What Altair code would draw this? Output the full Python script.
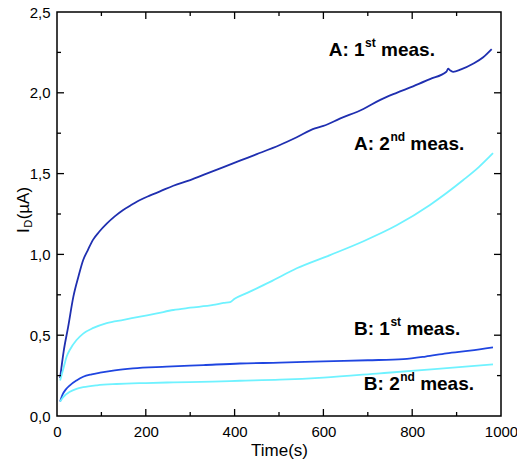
import altair as alt
import pandas as pd

# ---- measured drain current I_D (µA) versus time (s) ----
time_a1 = [7, 15, 25, 37, 48, 59, 70, 81, 95, 112, 130, 149, 170, 187, 210, 232, 262, 300,
           337, 375, 412, 450, 502, 540, 581, 600, 637, 690, 727, 765, 802, 840, 877, 881,
           885, 892, 910, 937, 960, 979]
cur_a1 = [0.235, 0.40, 0.55, 0.74, 0.86, 0.965, 1.03, 1.09, 1.14, 1.19, 1.235, 1.275, 1.31,
          1.337, 1.365, 1.39, 1.425, 1.46, 1.50, 1.54, 1.58, 1.62, 1.677, 1.725, 1.78, 1.795,
          1.84, 1.90, 1.955, 2.00, 2.04, 2.085, 2.13, 2.15, 2.14, 2.13, 2.145, 2.18, 2.22, 2.27]

time_a2 = [7, 15, 22, 29, 44, 59, 82, 112, 150, 187, 225, 262, 300, 352, 375, 390, 400, 427,
           480, 540, 615, 689, 765, 840, 915, 950, 982]
cur_a2 = [0.22, 0.30, 0.37, 0.41, 0.47, 0.51, 0.545, 0.575, 0.595, 0.615, 0.635, 0.656, 0.67,
          0.687, 0.70, 0.705, 0.725, 0.76, 0.83, 0.914, 0.996, 1.08, 1.18, 1.306, 1.46, 1.54,
          1.626]

time_b1 = [7, 12, 20, 29, 44, 59, 78, 97, 130, 171, 247, 330, 412, 502, 600, 700, 780, 830,
           877, 930, 982]
cur_b1 = [0.09, 0.13, 0.165, 0.19, 0.22, 0.243, 0.258, 0.268, 0.283, 0.295, 0.305, 0.315,
          0.325, 0.33, 0.338, 0.345, 0.352, 0.368, 0.388, 0.405, 0.425]

time_b2 = [7, 15, 29, 44, 59, 90, 134, 200, 262, 350, 412, 502, 600, 727, 850, 982]
cur_b2 = [0.09, 0.12, 0.15, 0.168, 0.178, 0.19, 0.198, 0.204, 0.208, 0.213, 0.218, 0.225,
          0.238, 0.264, 0.29, 0.32]

series_names = ["A1", "A2", "B1", "B2"]
series_colors = ["#1f2fb0", "#6ff2ff", "#1f45e0", "#6ff2ff"]

# axis labels and tick marks
x_label_values = [0, 200, 400, 600, 800, 1000]
y_label_values = [0.0, 0.5, 1.0, 1.5, 2.0, 2.5]
x_major = [200, 400, 600, 800]
x_minor = [100, 300, 500, 700, 900]
y_major = [0.5, 1.0, 1.5, 2.0]
y_minor = [0.25, 0.75, 1.25, 1.75, 2.25]

# curve annotations: anchor (time, current), main text, superscript
ann_time = [612, 669, 669, 691]
ann_cur = [2.228, 1.646, 0.501, 0.161]
ann_head = ["A: 1", "A: 2", "B: 1", "B: 2"]
ann_sup = ["st", "nd", "st", "nd"]
ann_tail = "meas."

W, H = 444, 404
FONT = "Liberation Sans"

frames = []
for name, ts, vs in zip(series_names, [time_a1, time_a2, time_b1, time_b2],
                        [cur_a1, cur_a2, cur_b1, cur_b2]):
    frames.append(pd.DataFrame({"series": name, "t": ts, "I": vs}))
curves = pd.concat(frames, ignore_index=True)

x_scale = alt.Scale(domain=[0, 1000], nice=False, zero=False)
y_scale = alt.Scale(domain=[0, 2.5], nice=False, zero=False)

lines = alt.Chart(curves).mark_line(strokeWidth=1.8, clip=True, interpolate="monotone").encode(
    x=alt.X("t:Q", scale=x_scale,
            axis=alt.Axis(title="Time(s)", values=x_label_values, format="d",
                          ticks=False, tickSize=0, domain=False, grid=False,
                          labelFont=FONT, labelFontSize=15, labelColor="black",
                          labelPadding=8, labelFlush=False, labelOverlap=False,
                          titleFont=FONT, titleFontSize=17, titleFontWeight="normal",
                          titleColor="black", titlePadding=3)),
    y=alt.Y("I:Q", scale=y_scale,
            axis=alt.Axis(title="", values=y_label_values,
                          labelExpr="replace(format(datum.value, '.1f'), '.', ',')",
                          ticks=False, tickSize=0, domain=False, grid=False,
                          labelFont=FONT, labelFontSize=15, labelColor="black",
                          labelPadding=7, labelFlush=False, labelOverlap=False)),
    color=alt.Color("series:N", scale=alt.Scale(domain=series_names, range=series_colors),
                    legend=None),
    order=alt.Order("t:Q"),
)


def tick_rules(vals, orient, length):
    """Inward tick marks on both opposite sides of the frame."""
    if orient == "x":
        data = pd.DataFrame({"t": vals})
        base = alt.Chart(data).mark_rule(color="black", strokeWidth=1.3)
        pos = alt.X("t:Q", scale=x_scale)
        return [base.encode(x=pos, y=alt.value(H), y2=alt.value(H - length)),
                base.encode(x=pos, y=alt.value(0), y2=alt.value(length))]
    data = pd.DataFrame({"I": vals})
    base = alt.Chart(data).mark_rule(color="black", strokeWidth=1.3)
    pos = alt.Y("I:Q", scale=y_scale)
    return [base.encode(y=pos, x=alt.value(0), x2=alt.value(length)),
            base.encode(y=pos, x=alt.value(W), x2=alt.value(W - length))]


ticks = (tick_rules(x_major, "x", 7) + tick_rules(x_minor, "x", 4)
         + tick_rules(y_major, "y", 7) + tick_rules(y_minor, "y", 4))

# Arial-bold advance widths (per 1000 em) for laying out the annotation pieces
ADV = {"A": 722, "B": 722, ":": 333, " ": 278, "1": 556, "2": 556, "s": 556, "t": 333,
       "n": 611, "d": 611}


def text_width(s, size):
    return sum(ADV[c] for c in s) * size / 1000.0


MAIN_SIZE, SUP_SIZE = 19, 12
labels = []
for t0, i0, head, sup in zip(ann_time, ann_cur, ann_head, ann_sup):
    d = pd.DataFrame({"t": [t0], "I": [i0]})
    enc = dict(x=alt.X("t:Q", scale=x_scale), y=alt.Y("I:Q", scale=y_scale))
    w_head = text_width(head, MAIN_SIZE)
    w_sup = text_width(sup, SUP_SIZE)
    common = dict(font=FONT, fontWeight="bold", align="left", baseline="alphabetic", color="black")
    labels.append(alt.Chart(d).mark_text(text=head, fontSize=MAIN_SIZE, **common).encode(**enc))
    labels.append(alt.Chart(d).mark_text(text=sup, fontSize=SUP_SIZE, dx=w_head + 0.5, dy=-9,
                                         **common).encode(**enc))
    labels.append(alt.Chart(d).mark_text(text=ann_tail, fontSize=MAIN_SIZE,
                                         dx=w_head + w_sup + 0.5 + text_width(" ", MAIN_SIZE),
                                         **common).encode(**enc))

# rotated y-axis title I_D(µA) with subscript D
one = pd.DataFrame({"k": [0]})
YT_X, YT_Y, YT_SIZE, SUB_SIZE = -28, 221, 17, 11
ytitle_common = dict(font=FONT, angle=270, align="left", baseline="alphabetic", color="black")
w_I = 278 * YT_SIZE / 1000.0
w_D = 722 * SUB_SIZE / 1000.0
ytitle = [
    alt.Chart(one).mark_text(text="I", fontSize=YT_SIZE, **ytitle_common)
    .encode(x=alt.value(YT_X), y=alt.value(YT_Y)),
    alt.Chart(one).mark_text(text="D", fontSize=SUB_SIZE, dx=w_I + 0.5, dy=3, **ytitle_common)
    .encode(x=alt.value(YT_X), y=alt.value(YT_Y)),
    alt.Chart(one).mark_text(text="(µA)", fontSize=YT_SIZE, dx=w_I + w_D + 1, **ytitle_common)
    .encode(x=alt.value(YT_X), y=alt.value(YT_Y)),
]

chart = alt.layer(lines, *ticks, *labels, *ytitle).properties(
    width=W, height=H,
    padding={"left": 57, "top": 12, "right": 16, "bottom": 45},
    autosize=alt.AutoSizeParams(type="none"),
    background="white",
).configure_view(stroke="black", strokeWidth=1.5)

chart.save("out.html", embed_options={"renderer": "svg", "actions": False})
